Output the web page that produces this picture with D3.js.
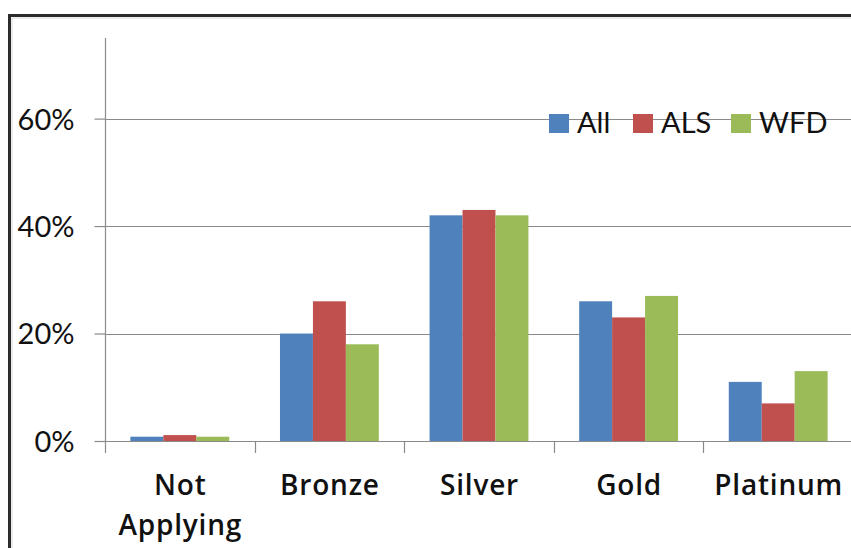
<!DOCTYPE html>
<html>
<head>
<meta charset="utf-8">
<script src="https://cdn.jsdelivr.net/npm/d3@7"></script>
<style>
  html, body { margin: 0; padding: 0; background: #fff; }
  svg { display: block; }
  text { font-family: Lato, "Open Sans", sans-serif; fill: #111; }
  .cat-label { font-family: "Open Sans", sans-serif; letter-spacing: 0.8px; }
</style>
</head>
<body>
<svg id="chart" width="851" height="548"></svg>
<script>
// Certification levels and the share of buildings at each level
const categories = ["Not Applying", "Bronze", "Silver", "Gold", "Platinum"];
const series = ["All", "ALS", "WFD"];
const allValues = [0.008, 0.20, 0.42, 0.26, 0.11];
const alsValues = [0.011, 0.26, 0.43, 0.23, 0.07];
const wfdValues = [0.008, 0.18, 0.42, 0.27, 0.13];
const seriesColors = ["#4F81BD", "#C0504D", "#9BBB59"];
const yTicks = [0, 0.2, 0.4, 0.6];

const values = { All: allValues, ALS: alsValues, WFD: wfdValues };

const svg = d3.select("#chart");
const plot = { left: 105, right: 853, top: 38, bottom: 441 };

// outer frame
svg.append("rect")
  .attr("x", 9.5).attr("y", 15.5)
  .attr("width", 900).attr("height", 600)
  .attr("fill", "none").attr("stroke", "#2b2b2b").attr("stroke-width", 3);
svg.append("rect")
  .attr("x", 12).attr("y", 18)
  .attr("width", 900).attr("height", 600)
  .attr("fill", "none").attr("stroke", "#d8d8d8").attr("stroke-width", 1);

const x = d3.scaleBand().domain(categories).range([plot.left, plot.right]).padding(0);
const xs = d3.scaleBand().domain(series).range([0, x.bandwidth()]).paddingInner(0).paddingOuter(0.77);
const y = d3.scaleLinear().domain([0, 0.75]).range([plot.bottom, plot.top]);

// horizontal gridlines
svg.append("g").selectAll("line").data(yTicks.filter(d => d > 0)).join("line")
  .attr("x1", plot.left).attr("x2", plot.right)
  .attr("y1", d => Math.round(y(d)) + 0.5).attr("y2", d => Math.round(y(d)) + 0.5)
  .attr("stroke", "#8a8a8a").attr("stroke-width", 1.2);

// bars
const groups = svg.append("g").selectAll("g").data(series).join("g")
  .attr("fill", (s, i) => seriesColors[i]);
groups.selectAll("rect").data(s => categories.map((c, i) => ({ c, s, v: values[s][i] }))).join("rect")
  .attr("x", d => x(d.c) + xs(d.s))
  .attr("width", xs.bandwidth())
  .attr("y", d => y(d.v))
  .attr("height", d => y(0) - y(d.v));

// y axis with outward ticks
const yAxis = d3.axisLeft(y).tickValues(yTicks).tickSize(11).tickPadding(20)
  .tickFormat(d3.format(".0%"));
const yg = svg.append("g").attr("transform", `translate(${plot.left + 0.5},0)`).call(yAxis);
yg.select(".domain").remove();
yg.selectAll(".tick line").attr("stroke", "#8a8a8a").attr("stroke-width", 1.2);
yg.selectAll(".tick text").attr("font-size", 29).attr("fill", "#111").attr("dy", "0.36em");
svg.append("line")
  .attr("x1", plot.left + 0.5).attr("x2", plot.left + 0.5)
  .attr("y1", plot.top).attr("y2", plot.bottom)
  .attr("stroke", "#8a8a8a").attr("stroke-width", 1.2);

// x axis: baseline, boundary ticks, two-line labels
svg.append("line")
  .attr("x1", plot.left).attr("x2", plot.right)
  .attr("y1", plot.bottom + 0.5).attr("y2", plot.bottom + 0.5)
  .attr("stroke", "#8a8a8a").attr("stroke-width", 1.2);
svg.append("g").selectAll("line").data(categories).join("line")
  .attr("x1", d => Math.round(x(d)) + 0.5).attr("x2", d => Math.round(x(d)) + 0.5)
  .attr("y1", plot.bottom).attr("y2", plot.bottom + 12)
  .attr("stroke", "#8a8a8a").attr("stroke-width", 1.2);

const xAxis = d3.axisBottom(x).tickSize(0).tickPadding(0);
const xg = svg.append("g").attr("transform", `translate(0,${plot.bottom})`).call(xAxis);
xg.select(".domain").remove();
xg.selectAll(".tick text").each(function (d) {
  const t = d3.select(this).text(null)
    .attr("class", "cat-label")
    .attr("font-size", 28).attr("font-weight", 600)
    .attr("fill", "#111").attr("y", 54).attr("dy", null);
  const words = d.split(" ");
  words.forEach((w, i) => t.append("tspan").attr("x", 0.5).attr("dy", i === 0 ? 0 : 40).text(w));
});

// legend
const legend = svg.append("g").attr("transform", "translate(549,114)");
const legendX = [0, 84, 182];
series.forEach((s, i) => {
  const g = legend.append("g").attr("transform", `translate(${legendX[i]},0)`);
  g.append("rect").attr("width", 20).attr("height", 19).attr("fill", seriesColors[i]);
  g.append("text").attr("x", 28).attr("y", 19).attr("font-size", 29).text(s);
});
</script>
</body>
</html>
